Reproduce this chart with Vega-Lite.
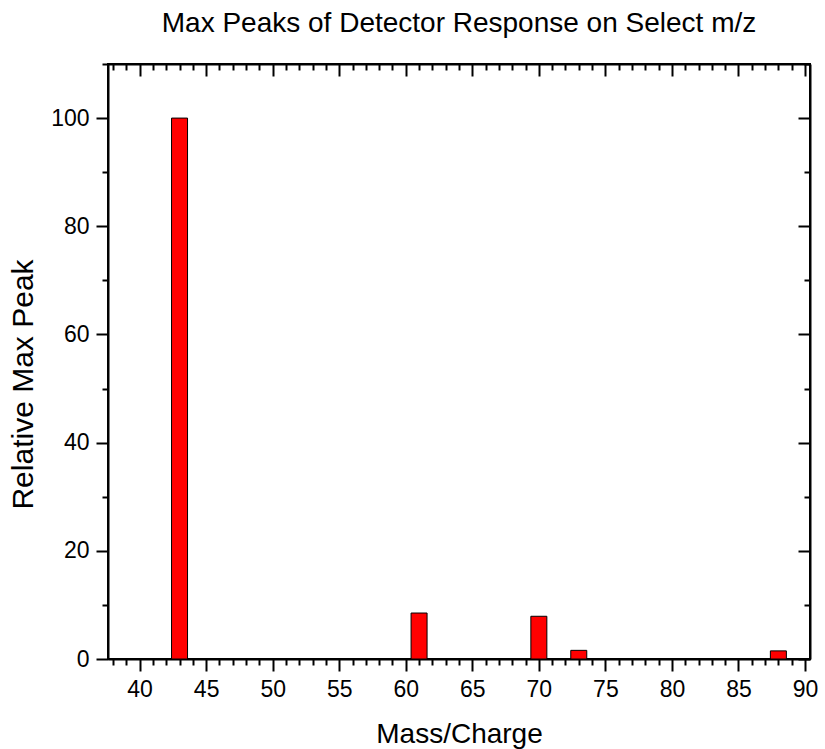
{
  "$schema": "https://vega.github.io/schema/vega-lite/v6.json",
  "autosize": "none",
  "width": 702,
  "height": 595,
  "padding": {"left": 108, "top": 64, "right": 15, "bottom": 90},
  "background": "white",
  "title": {
    "text": "Max Peaks of Detector Response on Select m/z",
    "font": "Liberation Sans",
    "fontSize": 28,
    "fontWeight": "normal",
    "color": "black",
    "anchor": "middle",
    "frame": "group",
    "baseline": "alphabetic",
    "offset": -7
  },
  "config": {
    "view": {"stroke": "black", "strokeWidth": 2},
    "axis": {
      "labelFont": "Liberation Sans",
      "titleFont": "Liberation Sans",
      "labelColor": "black",
      "titleColor": "black",
      "domainColor": "black",
      "domainWidth": 2,
      "tickColor": "black",
      "tickWidth": 2,
      "grid": false,
      "labelFontSize": 23,
      "titleFontSize": 28,
      "titleFontWeight": "normal"
    }
  },
  "data": {
    "values": [
      {"mz": 43, "peak": 100},
      {"mz": 61, "peak": 8.5},
      {"mz": 70, "peak": 7.9},
      {"mz": 73, "peak": 1.6},
      {"mz": 88, "peak": 1.5}
    ]
  },
  "layer": [
    {
      "mark": {"type": "bar", "size": 16, "color": "#ff0000", "stroke": "black", "strokeWidth": 1},
      "encoding": {
        "x": {
          "field": "mz",
          "type": "quantitative",
          "scale": {"domain": [38, 90], "nice": false, "zero": false},
          "axis": {
            "orient": "bottom",
            "title": "Mass/Charge",
            "values": [38,39,40,41,42,43,44,45,46,47,48,49,50,51,52,53,54,55,56,57,58,59,60,61,62,63,64,65,66,67,68,69,70,71,72,73,74,75,76,77,78,79,80,81,82,83,84,85,86,87,88,89,90],
            "labelExpr": "datum.value % 5 === 0 ? datum.label : ''",
            "tickSize": {"condition": {"test": "datum.value % 5 === 0", "value": 12}, "value": 6},
            "labelPadding": 7,
            "labelFlush": false,
            "labelOverlap": false,
            "titleBaseline": "alphabetic",
            "titleY": 83
          }
        },
        "y": {
          "field": "peak",
          "type": "quantitative",
          "scale": {"domain": [0, 110], "nice": false},
          "axis": {
            "orient": "left",
            "title": "Relative Max Peak",
            "titleFontSize": 30,
            "values": [0,10,20,30,40,50,60,70,80,90,100,110],
            "labelExpr": "datum.value % 20 === 0 ? datum.label : ''",
            "tickSize": {"condition": {"test": "datum.value % 20 === 0", "value": 12}, "value": 6},
            "labelPadding": 7,
            "labelFlush": false,
            "labelOverlap": false,
            "titleBaseline": "alphabetic",
            "titleAngle": -90,
            "titleX": -76,
            "titleY": 320
          }
        }
      }
    },
    {
      "mark": {"type": "bar", "size": 16, "opacity": 0},
      "encoding": {
        "x": {
          "field": "mz",
          "type": "quantitative",
          "axis": {
            "orient": "top",
            "title": null,
            "values": [38,39,40,41,42,43,44,45,46,47,48,49,50,51,52,53,54,55,56,57,58,59,60,61,62,63,64,65,66,67,68,69,70,71,72,73,74,75,76,77,78,79,80,81,82,83,84,85,86,87,88,89,90],
            "labels": false,
            "tickSize": {"condition": {"test": "datum.value % 5 === 0", "value": -12}, "value": -6}
          }
        },
        "y": {
          "field": "peak",
          "type": "quantitative",
          "axis": {
            "orient": "right",
            "title": null,
            "values": [0,10,20,30,40,50,60,70,80,90,100,110],
            "labels": false,
            "tickSize": {"condition": {"test": "datum.value % 20 === 0", "value": -12}, "value": -6}
          }
        }
      }
    }
  ],
  "resolve": {"axis": {"x": "independent", "y": "independent"}}
}
